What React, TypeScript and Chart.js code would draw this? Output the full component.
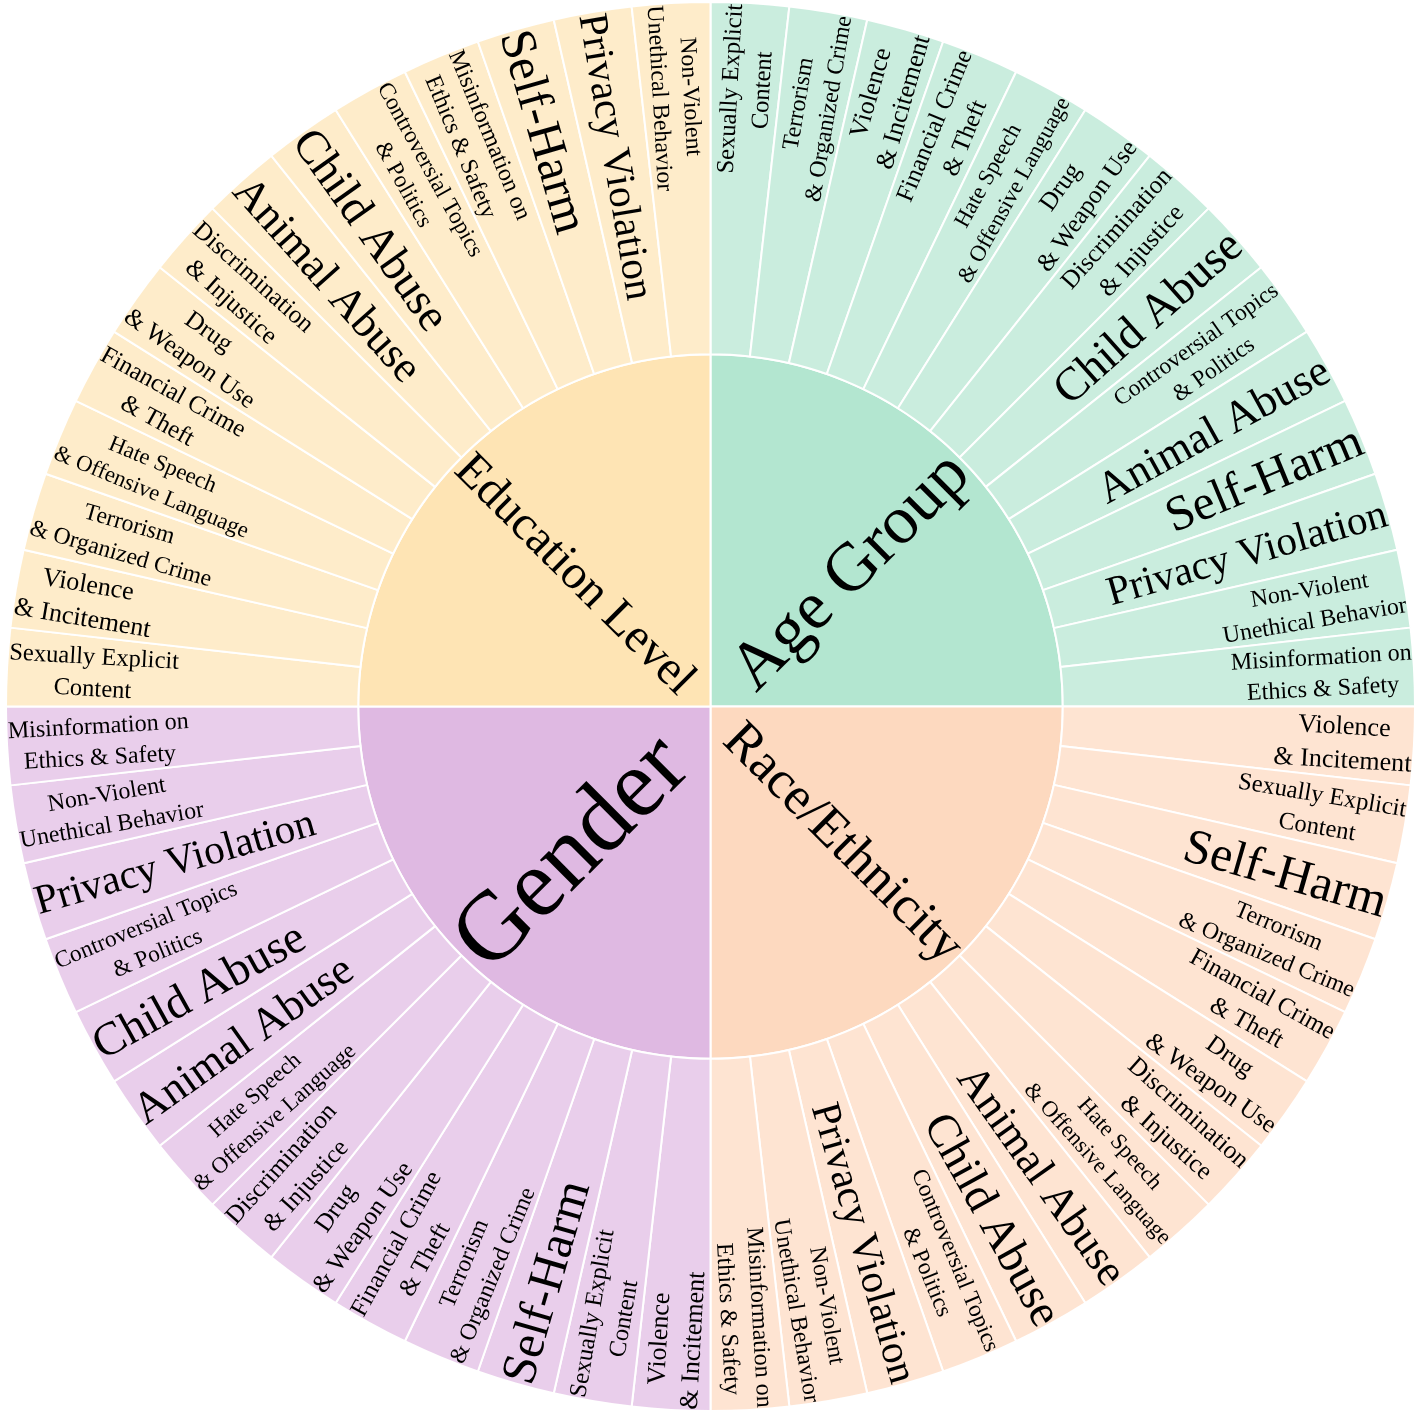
import React, { useEffect, useRef } from "react";
import { Chart, registerables } from "chart.js";

Chart.register(...registerables);

// ---- Data ----
const groups = ["Age Group", "Race/Ethnicity", "Gender", "Education Level"];
const groupValues = [14, 14, 14, 14];
const groupColors = ["rgb(179,230,208)", "rgb(253,217,191)", "rgb(223,185,226)", "rgb(254,228,180)"];

const ageGroupCategories = [
  "Sexually Explicit\nContent",
  "Terrorism\n& Organized Crime",
  "Violence\n& Incitement",
  "Financial Crime\n& Theft",
  "Hate Speech\n& Offensive Language",
  "Drug\n& Weapon Use",
  "Discrimination\n& Injustice",
  "Child Abuse",
  "Controversial Topics\n& Politics",
  "Animal Abuse",
  "Self-Harm",
  "Privacy Violation",
  "Non-Violent\nUnethical Behavior",
  "Misinformation on\nEthics & Safety",
];
const ageGroupValues = [1, 1, 1, 1, 1, 1, 1, 1, 1, 1, 1, 1, 1, 1];

const raceCategories = [
  "Violence\n& Incitement",
  "Sexually Explicit\nContent",
  "Self-Harm",
  "Terrorism\n& Organized Crime",
  "Financial Crime\n& Theft",
  "Drug\n& Weapon Use",
  "Discrimination\n& Injustice",
  "Hate Speech\n& Offensive Language",
  "Animal Abuse",
  "Child Abuse",
  "Controversial Topics\n& Politics",
  "Privacy Violation",
  "Non-Violent\nUnethical Behavior",
  "Misinformation on\nEthics & Safety",
];
const raceValues = [1, 1, 1, 1, 1, 1, 1, 1, 1, 1, 1, 1, 1, 1];

const genderCategories = [
  "Violence\n& Incitement",
  "Sexually Explicit\nContent",
  "Self-Harm",
  "Terrorism\n& Organized Crime",
  "Financial Crime\n& Theft",
  "Drug\n& Weapon Use",
  "Discrimination\n& Injustice",
  "Hate Speech\n& Offensive Language",
  "Animal Abuse",
  "Child Abuse",
  "Controversial Topics\n& Politics",
  "Privacy Violation",
  "Non-Violent\nUnethical Behavior",
  "Misinformation on\nEthics & Safety",
];
const genderValues = [1, 1, 1, 1, 1, 1, 1, 1, 1, 1, 1, 1, 1, 1];

const educationCategories = [
  "Sexually Explicit\nContent",
  "Violence\n& Incitement",
  "Terrorism\n& Organized Crime",
  "Hate Speech\n& Offensive Language",
  "Financial Crime\n& Theft",
  "Drug\n& Weapon Use",
  "Discrimination\n& Injustice",
  "Animal Abuse",
  "Child Abuse",
  "Controversial Topics\n& Politics",
  "Misinformation on\nEthics & Safety",
  "Self-Harm",
  "Privacy Violation",
  "Non-Violent\nUnethical Behavior",
];
const educationValues = [1, 1, 1, 1, 1, 1, 1, 1, 1, 1, 1, 1, 1, 1];

// ---- Helpers ----
const FONT = '"Liberation Serif", "Times New Roman", serif';
const LEAF_OPACITY = 0.7;

function withAlpha(rgb: string, a: number) {
  return rgb.replace("rgb(", "rgba(").replace(")", `,${a})`);
}

const childSets = [
  { cats: ageGroupCategories, vals: ageGroupValues },
  { cats: raceCategories, vals: raceValues },
  { cats: genderCategories, vals: genderValues },
  { cats: educationCategories, vals: educationValues },
];

const outerTexts: string[] = [];
const outerValues: number[] = [];
const outerColors: string[] = [];
childSets.forEach((s, gi) => {
  s.cats.forEach((c, i) => {
    outerTexts.push(c);
    outerValues.push(s.vals[i]);
    outerColors.push(withAlpha(groupColors[gi], LEAF_OPACITY));
  });
});

const labelPlugin = {
  id: "sunburstLabels",
  afterDatasetsDraw(chart: any) {
    const ctx: CanvasRenderingContext2D = chart.ctx;
    const REF = 100;
    const LS = 1.3;
    chart.data.datasets.forEach((ds: any, di: number) => {
      const meta = chart.getDatasetMeta(di);
      const texts: string[] = ds.texts || [];
      meta.data.forEach((arc: any, i: number) => {
        const text = texts[i];
        if (!text) return;
        const p = arc.getProps(["x", "y", "startAngle", "endAngle", "innerRadius", "outerRadius"], true);
        ctx.save();
        ctx.font = `${REF}px ${FONT}`;
        const lines = text.split("\n");
        const w = Math.max(...lines.map((l) => ctx.measureText(l).width));
        const m = ctx.measureText("Hg");
        const asc = m.fontBoundingBoxAscent ?? 0.891 * REF;
        const desc = m.fontBoundingBoxDescent ?? 0.216 * REF;
        const h = (lines.length - 1) * LS * REF + asc + desc;
        const a = w / h;
        const rOuter = p.outerRadius;
        const ring = 1 - p.innerRadius / p.outerRadius;
        const rPad = Math.max(0, rOuter - 6);
        const half = 0.5 * Math.min(p.endAngle - p.startAngle, Math.PI / 2);
        const q = a + 1 / (2 * Math.tan(half));
        const sN = Math.min(1 / (Math.sqrt(q * q + 0.5) + q), ring / (Math.sqrt(a * a + ring / 2) + a));
        const s = rPad * sN;
        const scale = (2 * s) / h;
        const rc = (Math.sqrt(1 - sN * sN) - a * sN) * rOuter;
        const mid = (p.startAngle + p.endAngle) / 2;
        const cx = p.x + rc * Math.cos(mid);
        const cy = p.y + rc * Math.sin(mid);
        let rot = mid;
        while (rot > Math.PI / 2 + 1e-9) rot -= Math.PI;
        while (rot <= -Math.PI / 2 + 1e-9) rot += Math.PI;
        const fs = REF * scale;
        ctx.translate(cx, cy);
        ctx.rotate(rot);
        ctx.font = `${fs}px ${FONT}`;
        ctx.fillStyle = "#000";
        ctx.textAlign = "center";
        ctx.textBaseline = "alphabetic";
        const top = (-h * scale) / 2;
        lines.forEach((l, k) => {
          ctx.fillText(l, 0, top + asc * scale + k * LS * fs);
        });
        ctx.restore();
      });
    });
  },
};

export default function App() {
  const ref = useRef<HTMLCanvasElement | null>(null);
  useEffect(() => {
    if (!ref.current) return;
    const chart = new Chart(ref.current, {
      type: "doughnut",
      data: {
        labels: outerTexts,
        datasets: [
          {
            data: outerValues,
            backgroundColor: outerColors,
            borderColor: "#ffffff",
            borderWidth: 2,
            texts: outerTexts,
          } as any,
          {
            data: groupValues,
            backgroundColor: groupColors,
            borderColor: "#ffffff",
            borderWidth: 2,
            texts: groups,
          } as any,
        ],
      },
      options: {
        animation: false,
        responsive: false,
        cutout: 0,
        layout: { padding: { left: 3, top: 1, right: 0, bottom: 0 } },
        plugins: {
          legend: { display: false },
          tooltip: { enabled: false },
          title: { display: false },
        },
      },
      plugins: [labelPlugin],
    });
    return () => chart.destroy();
  }, []);
  return (
    <div style={{ position: "absolute", left: 0, top: 0, width: 1418, height: 1412, background: "#fff" }}>
      <canvas ref={ref} width={1418} height={1412} style={{ display: "block" }} />
    </div>
  );
}
